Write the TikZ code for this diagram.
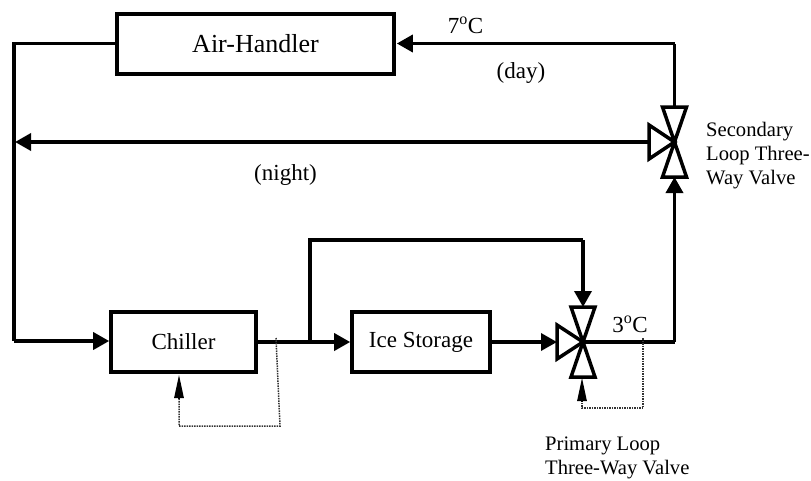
\documentclass[tikz,border=0pt]{standalone}
\usepackage{fontspec}
\setmainfont{Liberation Serif}
\usetikzlibrary{arrows.meta,calc}
\tikzset{
  x=1pt,y=-1pt,
  boxn/.style={draw,line width=3.6pt,minimum width=#1,inner sep=0pt},
  pipe/.style={line width=3.5pt,line join=miter},
  flow/.style={pipe,-{Triangle[length=16pt,width=17pt]}},
  sense/.style={line width=1.5pt,densely dotted,black!80},
  sensetip/.style={line width=1.2pt,-{Triangle[length=23pt,width=9.5pt,sep=0pt]}},
  valvetri/.style={draw,line width=3.5pt,fill=white,line join=miter},
  lab/.style={inner sep=0pt,font=\fontsize{23}{27}\selectfont},
  note/.style={inner sep=0pt,align=left,font=\fontsize{20.6}{24}\selectfont}
}
\begin{document}
\begin{tikzpicture}
\useasboundingbox (0,0) rectangle (811,480);
\node[boxn=277pt,minimum height=60pt,font=\fontsize{26}{30}\selectfont] (air) at (255.5,44) {Air-Handler};
\node[boxn=145pt,minimum height=60pt,font=\fontsize{23}{27}\selectfont] (chill) at (183.5,342) {Chiller};
\node[boxn=138pt,minimum height=60pt,font=\fontsize{23}{27}\selectfont] (ice) at (421,342) {Ice Storage};
\coordinate (v1) at (583,342);
\coordinate (v2) at (674.5,142);
\coordinate (lt) at (14,43.5);
\coordinate (lm) at (15,142);
\coordinate (lb) at (14,341);
\coordinate (rt) at (674.5,43.5);
\coordinate (rb) at (674.5,342);
\coordinate (tee) at (310,342);
\coordinate (byp) at (310,240);
\coordinate (bypr) at (583,240);
\coordinate (v1top) at (583,307);
\coordinate (v1left) at (557,342);
\coordinate (v1bot) at (583,377);
\coordinate (v2top) at (674.5,107);
\coordinate (v2left) at (649,142);
\coordinate (v2bot) at (674.5,177);
% pipes
\draw[pipe] (air.west |- lt) -- (lt) -- (lb);
\draw[flow] (lb) -- (chill.west |- lb);
\draw[flow] (v2left) -- (lm);
\draw[pipe] (v2top) -- (rt);
\draw[flow] (rt) -- ($(air.east |- rt)+(1,0)$);
\draw[pipe] (v1) -- (rb);
\draw[flow] (rb) -- (v2bot);
\draw[flow] (chill.east) -- (ice.west);
\draw[pipe] (tee) -- (byp) -- (bypr);
\draw[flow] (bypr) -- (v1top);
\draw[flow] (ice.east) -- (v1left);
% valves
\foreach \c/\t/\l/\b in {v1/v1top/v1left/v1bot,v2/v2top/v2left/v2bot}{
  \draw[valvetri] (\c) -- ($(\t)+(-12,0)$) -- ($(\t)+(12,0)$) -- cycle;
  \draw[valvetri] (\c) -- ($(\b)+(-12,0)$) -- ($(\b)+(12,0)$) -- cycle;
  \draw[valvetri] (\c) -- ($(\l)+(0,-17)$) -- ($(\l)+(0,17)$) -- cycle;
}
% sensor lines
\coordinate (s1a) at (276,338);
\coordinate (s1b) at (280,426);
\coordinate (s1c) at (179,426);
\coordinate (s1d) at (179,398);
\coordinate (s1e) at (179,375);
\draw[sense] (s1a) -- (s1b) -- (s1c) -- (s1d);
\draw[sensetip] (s1d) -- (s1e);
\coordinate (s2a) at (643,338);
\coordinate (s2b) at (643,408);
\coordinate (s2c) at (582,408);
\coordinate (s2d) at (582,401);
\coordinate (s2e) at (582,378);
\draw[sense] (s2a) -- (s2b) -- (s2c) -- (s2d);
\draw[sensetip] (s2d) -- (s2e);
% labels
\node[lab] (t7) at (465.5,25) {7\textsuperscript{o}C};
\node[lab] (tday) at (521,73) {(day)};
\node[lab] (tnight) at (285.5,175) {(night)};
\node[lab] (t3) at (630,324) {3\textsuperscript{o}C};
\node[note,anchor=north west] (sec) at (706,122) {Secondary\\Loop Three-\\Way Valve};
\node[note,anchor=north west] (pri) at (545,437) {Primary Loop\\Three-Way Valve};
\end{tikzpicture}
\end{document}
